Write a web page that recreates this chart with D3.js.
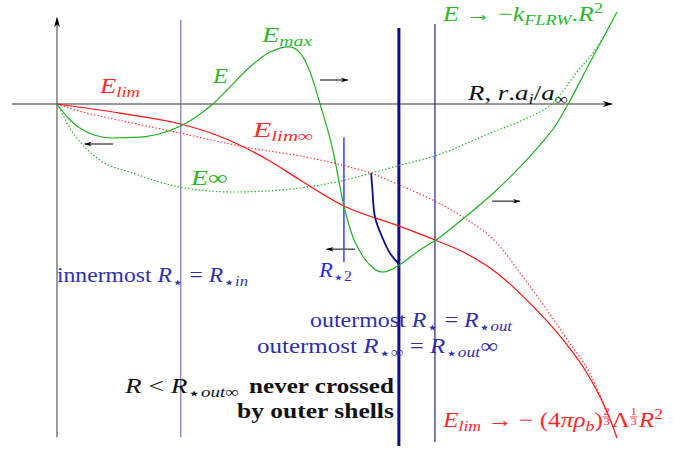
<!DOCTYPE html>
<html>
<head>
<meta charset="utf-8">
<script src="https://cdn.jsdelivr.net/npm/d3@7"></script>
<style>
  body { margin: 0; background: #fff; }
  svg { display: block; }
</style>
</head>
<body>
<div id="chart"></div>
<script>
// Schematic energy curves, R in arbitrary units, E in arbitrary units

// E(R), solid green
const curveE = [
  [0, 0], [0.20, -0.35], [0.41, -0.60], [0.68, -0.78], [1.01, -0.85], [1.50, -0.83],
  [1.95, -0.70], [2.23, -0.55], [2.58, -0.25], [2.81, 0], [3.12, 0.43], [3.48, 0.93],
  [3.84, 1.30], [4.18, 1.43], [4.38, 1.28], [4.56, 0.80], [4.74, 0], [4.97, -1.15],
  [5.17, -2.55], [5.32, -3.28], [5.50, -3.78], [5.68, -4.08], [5.86, -4.20], [6.04, -4.13],
  [6.16, -4.03], [6.54, -3.65], [6.90, -3.33], [7.35, -2.83], [7.86, -2.23], [8.34, -1.58],
  [8.70, -1.03], [9.01, -0.48], [9.21, 0], [9.60, 1.03], [10.09, 2.30]
];

// E_inf(R), dotted green
const curveEinf = [
  [0, 0], [0.11, -0.28], [0.23, -0.60], [0.45, -1.00], [0.77, -1.40], [1.37, -1.73],
  [2.23, -2.08], [3.17, -2.20], [4.38, -2.10], [5.10, -1.93], [5.66, -1.73], [6.18, -1.53],
  [6.85, -1.28], [7.80, -0.73], [8.47, -0.35], [8.94, 0.03], [9.37, 0.80], [9.66, 1.28],
  [9.93, 1.85]
];

// E_lim(R), solid red
const curveElim = [
  [0, 0], [1.14, -0.23], [2.23, -0.50], [2.88, -0.78], [3.78, -1.38], [4.38, -1.90],
  [5.17, -2.55], [6.16, -3.05], [6.81, -3.40], [7.32, -3.70], [7.93, -4.23], [8.52, -4.98],
  [9.12, -5.90], [9.55, -6.73], [9.84, -7.48], [9.97, -7.90], [10.09, -8.35]
];

// E_lim_inf(R), dotted red
const curveElimInf = [
  [0, 0], [0.41, -0.18], [0.77, -0.30], [1.37, -0.48], [2.23, -0.73], [3.48, -1.10],
  [4.38, -1.30], [5.28, -1.58], [5.66, -1.73], [6.18, -2.03], [6.81, -2.43], [7.32, -2.83],
  [7.93, -3.48], [8.40, -4.33], [8.83, -5.15], [9.24, -5.98], [9.60, -6.73], [9.82, -7.40],
  [9.91, -7.70]
];

// shell path between the two limits, dark blue
const curveShell = [
  [5.66, -1.73], [5.68, -2.08], [5.73, -2.83], [5.86, -3.33], [6.00, -3.73], [6.16, -4.00]
];

// vertical markers: R position, E top, E bottom
const vLines = [
  { name: 'Rin',    r: 2.23, top: 2.10, bottom: -8.33, color: '#7272c6', width: 1.2 },
  { name: 'R2',     r: 5.17, top: -0.83, bottom: -3.95, color: '#1010ff', width: 1.2 },
  { name: 'Rout',   r: 6.16, top: 1.90, bottom: -8.55, color: '#0c0c92', width: 3 },
  { name: 'RoutInf', r: 6.81, top: 2.00, bottom: -8.45, color: '#1f1fa0', width: 1.2 }
];

// direction arrows: from [R, E] to [R, E]
const arrows = [
  [[1.01, -1.00], [0.50, -1.00]],
  [[4.74, 0.60], [5.24, 0.60]],
  [[7.84, -2.43], [8.34, -2.43]],
  [[5.37, -3.63], [4.86, -3.63]]
];

const width = 698;
const height = 454;

const x = d3.scaleLinear().domain([0, 10]).range([57, 612]);
const y = d3.scaleLinear().domain([0, -8.5]).range([104, 444]);

const GREEN = '#1faf1f';
const GREEN_TXT = '#2cb82c';
const RED = '#ff1010';
const RED_TXT = '#ff2a2a';
const NAVY_TXT = '#3030a6';

const svg = d3.select('#chart')
  .append('svg')
  .attr('width', width)
  .attr('height', height)
  .style('background', '#fff');

const defs = svg.append('defs');
defs.append('marker')
  .attr('id', 'head')
  .attr('viewBox', '0 0 10 8')
  .attr('refX', 9).attr('refY', 4)
  .attr('markerWidth', 10).attr('markerHeight', 8)
  .attr('markerUnits', 'userSpaceOnUse')
  .attr('orient', 'auto')
  .append('path')
  .attr('d', 'M0,1 L10,4 L0,7 L2.5,4 Z')
  .attr('fill', '#000');
defs.append('marker')
  .attr('id', 'smallhead')
  .attr('viewBox', '0 0 10 8')
  .attr('refX', 9).attr('refY', 4)
  .attr('markerWidth', 8).attr('markerHeight', 6)
  .attr('markerUnits', 'userSpaceOnUse')
  .attr('orient', 'auto')
  .append('path')
  .attr('d', 'M0,1 L10,4 L0,7 L2.5,4 Z')
  .attr('fill', '#000');

// axes
svg.append('line')
  .attr('x1', x(0)).attr('y1', y(-8.33))
  .attr('x2', x(0)).attr('y2', y(2.15))
  .attr('stroke', '#7a7a7a').attr('stroke-width', 1.5)
  .attr('marker-end', 'url(#head)');
svg.append('line')
  .attr('x1', x(-0.81)).attr('y1', y(0))
  .attr('x2', x(10)).attr('y2', y(0))
  .attr('stroke', '#333').attr('stroke-width', 1.2)
  .attr('marker-end', 'url(#head)');

// vertical markers
svg.append('g')
  .selectAll('line')
  .data(vLines)
  .enter().append('line')
  .attr('x1', d => x(d.r)).attr('x2', d => x(d.r))
  .attr('y1', d => y(d.top)).attr('y2', d => y(d.bottom))
  .attr('stroke', d => d.color)
  .attr('stroke-width', d => d.width);

const line = d3.line()
  .x(d => x(d[0]))
  .y(d => y(d[1]))
  .curve(d3.curveMonotoneX);

const curves = [
  { data: curveEinf, color: GREEN, dash: '1.4 2.1' },
  { data: curveElimInf, color: '#ff3030', dash: '1.4 2.1' },
  { data: curveElim, color: RED, dash: null },
  { data: curveE, color: GREEN, dash: null }
];

svg.append('g')
  .selectAll('path')
  .data(curves)
  .enter().append('path')
  .attr('d', d => line(d.data))
  .attr('fill', 'none')
  .attr('stroke', d => d.color)
  .attr('stroke-width', 1.2)
  .attr('stroke-dasharray', d => d.dash);

svg.append('path')
  .attr('d', d3.line().x(d => x(d[0])).y(d => y(d[1])).curve(d3.curveCatmullRom)(curveShell))
  .attr('fill', 'none')
  .attr('stroke', '#0c0c88')
  .attr('stroke-width', 1.8);

// direction arrows
svg.append('g')
  .selectAll('line')
  .data(arrows)
  .enter().append('line')
  .attr('x1', d => x(d[0][0])).attr('y1', d => y(d[0][1]))
  .attr('x2', d => x(d[1][0])).attr('y2', d => y(d[1][1]))
  .attr('stroke', '#555')
  .attr('stroke-width', 1.5)
  .attr('marker-end', 'url(#smallhead)');

// --- text, set piece by piece like a formula (one <text> per label) ---
// kinds: r roman, i italic, b bold, si/sr subscript, pi/pr superscript, st star, f fraction
// opt.w = width the label takes in the original (TeX fonts run wider than Times)
function typeset(x0, y0, tokens, opt) {
  const size = opt.size || 21;
  const g = svg.append('g').attr('fill', opt.color);
  const text = g.append('text')
    .attr('font-size', size)
    .style('font-family', '"Liberation Serif", "DejaVu Serif", serif')
    .style('white-space', 'pre');
  let cx = 0;
  tokens.forEach(tk => {
    const [txt, kind] = tk;
    if (kind === 'f') {
      const fs = size * 0.5;
      const parts = txt.split('/');
      const num = text.append('tspan').attr('font-size', fs).attr('y', -size * 0.55).text(parts[0]);
      const den = text.append('tspan').attr('font-size', fs).attr('y', -size * 0.08).text(parts[1]);
      const w = Math.max(num.node().getComputedTextLength(), den.node().getComputedTextLength()) + 1;
      num.attr('x', cx + 0.5);
      den.attr('x', cx + 0.5);
      g.append('rect').attr('x', cx).attr('y', -size * 0.5).attr('width', w).attr('height', 0.8);
      cx += w + 1;
      return;
    }
    if (kind === 'st') {
      const t = text.append('tspan')
        .attr('x', cx).attr('y', size * 0.28)
        .attr('font-size', size * 0.8)
        .style('font-family', '"DejaVu Sans", sans-serif')
        .text(txt);
      cx += t.node().getComputedTextLength();
      return;
    }
    const small = kind[0] === 's' || kind[0] === 'p';
    const fs = small ? size * 0.7 : size;
    const dy = kind[0] === 's' ? size * 0.2 : kind[0] === 'p' ? -size * 0.36 : 0;
    const style = kind.slice(-1);
    const t = text.append('tspan')
      .attr('x', cx).attr('y', dy)
      .attr('font-size', fs)
      .attr('font-style', style === 'i' ? 'italic' : 'normal')
      .attr('font-weight', style === 'b' ? 'bold' : 'normal')
      .text(txt);
    cx += t.node().getComputedTextLength();
  });
  const w = opt.w || cx;
  const sx = w / cx;
  const shift = opt.anchor === 'end' ? -w : 0;
  g.attr('transform', `translate(${x0 + shift},${y0}) scale(${sx},1)`);
}

typeset(100, 93, [['E', 'i'], ['lim', 'si']], { color: RED_TXT, w: 40 });
typeset(213, 83, [['E', 'i']], { color: GREEN_TXT, w: 15 });
typeset(262, 42, [['E', 'i'], ['max', 'si']], { color: GREEN_TXT, w: 50 });
typeset(253, 137, [['E', 'i'], ['lim∞', 'si']], { color: RED_TXT, w: 60 });
typeset(191, 185, [['E', 'i'], ['∞', 'r']], { color: GREEN_TXT, w: 37 });
typeset(443, 21, [['E', 'i'], [' → −', 'r'], ['k', 'i'], ['FLRW', 'si'], ['.', 'r'], ['R', 'i'], ['2', 'pr']],
  { color: GREEN_TXT, w: 160 });
typeset(468, 100, [['R', 'i'], [', ', 'r'], ['r', 'i'], ['.', 'r'], ['a', 'i'], ['i', 'si'], ['/', 'r'],
  ['a', 'i'], ['∞', 'sr']], { color: '#111', w: 100 });
typeset(57, 282, [['innermost ', 'r'], ['R', 'i'], ['⋆', 'st'], [' = ', 'r'], ['R', 'i'], ['⋆', 'st'],
  ['in', 'si']], { color: NAVY_TXT, w: 191 });
typeset(319, 277, [['R', 'i'], ['⋆', 'st'], ['2', 'sr']], { color: '#2a2aff', w: 33 });
typeset(310, 327, [['outermost ', 'r'], ['R', 'i'], ['⋆', 'st'], [' = ', 'r'], ['R', 'i'], ['⋆', 'st'],
  ['out', 'si']], { color: NAVY_TXT, w: 202 });
typeset(257, 353, [['outermost ', 'r'], ['R', 'i'], ['⋆', 'st'], ['∞', 'sr'], [' = ', 'r'], ['R', 'i'],
  ['⋆', 'st'], ['out', 'si'], ['∞', 'r']], { color: NAVY_TXT, w: 241 });
typeset(125, 393, [['R', 'i'], [' < ', 'r'], ['R', 'i'], ['⋆', 'st'], ['out', 'si'], ['∞', 'sr']],
  { color: '#111', w: 114 });
typeset(394, 393, [['never crossed', 'b']], { color: '#111', anchor: 'end', w: 145 });
typeset(394, 418, [['by outer shells', 'b']], { color: '#111', anchor: 'end', w: 157 });
typeset(443, 427, [['E', 'i'], ['lim', 'si'], [' → − (4', 'r'], ['πρ', 'i'], ['b', 'si'], [')', 'r'],
  ['2/3', 'f'], ['Λ', 'r'], ['1/3', 'f'], ['R', 'i'], ['2', 'pr']], { color: RED_TXT, w: 220 });
</script>
</body>
</html>
